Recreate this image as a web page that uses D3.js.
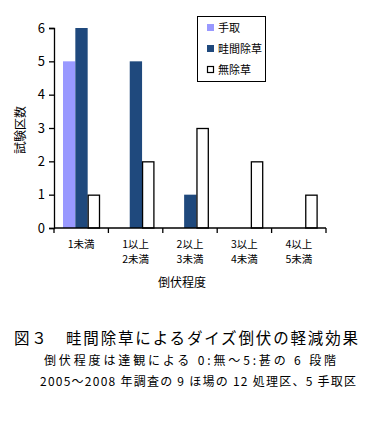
<!DOCTYPE html>
<html lang="ja">
<head>
<meta charset="utf-8">
<script src="https://d3js.org/d3.v7.min.js"></script>
<style>
  body { margin: 0; background: #fff; }
  text { font-family: "Noto Sans CJK JP", sans-serif; fill: #000; }
</style>
</head>
<body>
<script>
// data
var categories = [["1未満"], ["1以上", "2未満"], ["2以上", "3未満"], ["3以上", "4未満"], ["4以上", "5未満"]];
var seriesNames = ["手取", "畦間除草", "無除草"];
var tedori = [5, 0, 0, 0, 0];
var uneJosou = [6, 5, 1, 0, 0];
var muJosou = [1, 2, 3, 2, 1];
var yTicks = [0, 1, 2, 3, 4, 5, 6];
var captions = [
  "図３　畦間除草によるダイズ倒伏の軽減効果",
  "倒伏程度は達観による 0:無～5:甚の 6 段階",
  "2005～2008 年調査の 9 ほ場の 12 処理区、5 手取区"
];

var series = [tedori, uneJosou, muJosou];
var colors = ["#9999ff", "#1f497d", "#ffffff"];

var w = 375, h = 431;
var plotLeft = 54, plotRight = 326, plotTop = 28, plotBottom = 228;

var svg = d3.select("body").append("svg").attr("width", w).attr("height", h);

var x = d3.scaleBand().domain(d3.range(categories.length)).range([plotLeft, plotRight]);
var xs = d3.scaleBand().domain(d3.range(series.length)).range([9, 46]);
var y = d3.scaleLinear().domain([0, 6]).range([plotBottom, plotTop]);

// bars
series.forEach(function(s, si) {
  var outline = si == 2;
  s.forEach(function(d, i) {
    if (d <= 0) return;
    svg.append("rect")
      .attr("x", x(i) + xs(si) + (outline ? 0.5 : 0))
      .attr("y", y(d) + (outline ? 0.5 : 0))
      .attr("width", xs.bandwidth() - (outline ? 1 : 0))
      .attr("height", plotBottom - y(d) - (outline ? 0.5 : 0))
      .attr("fill", colors[si])
      .attr("stroke", outline ? "#000" : "none")
      .attr("stroke-width", 1.3);
  });
});

// y axis
var yAxis = d3.axisLeft(y).tickValues(yTicks).tickSize(5).tickPadding(4).tickFormat(d3.format("d"));
var gy = svg.append("g").attr("transform", "translate(" + plotLeft + ",0)").call(yAxis);
gy.selectAll("path, line").attr("stroke", "#000").attr("stroke-width", 1.3);
gy.selectAll("text").attr("font-size", 13).attr("font-family", "Liberation Sans, Arial, sans-serif");

// x axis
var gx = svg.append("g").attr("transform", "translate(0," + plotBottom + ")");
gx.append("line").attr("x1", plotLeft).attr("x2", plotRight).attr("stroke", "#000").attr("stroke-width", 1.3);
d3.range(categories.length + 1).forEach(function(i) {
  var xx = i < categories.length ? x(i) : plotRight;
  gx.append("line").attr("x1", xx).attr("x2", xx).attr("y1", 0).attr("y2", 5).attr("stroke", "#000").attr("stroke-width", 1.3);
});
categories.forEach(function(c, i) {
  c.forEach(function(line, j) {
    gx.append("text")
      .attr("x", x(i) + x.bandwidth() / 2)
      .attr("y", 20 + j * 15)
      .attr("text-anchor", "middle")
      .attr("font-size", 10.5)
      .text(line);
  });
});

// axis titles
svg.append("text")
  .attr("transform", "translate(25,130) rotate(-90)")
  .attr("text-anchor", "middle")
  .attr("font-size", 12)
  .text("試験区数");
svg.append("text")
  .attr("x", 182).attr("y", 287)
  .attr("text-anchor", "middle")
  .attr("font-size", 12)
  .text("倒伏程度");

// legend
var lg = svg.append("g");
lg.append("rect").attr("x", 197.5).attr("y", 16.5).attr("width", 68).attr("height", 65)
  .attr("fill", "#fff").attr("stroke", "#000").attr("stroke-width", 1);
seriesNames.forEach(function(n, i) {
  var yy = 24 + i * 21;
  lg.append("rect").attr("x", i == 2 ? 207.5 : 207).attr("y", i == 2 ? yy + 0.5 : yy)
    .attr("width", i == 2 ? 6 : 7).attr("height", i == 2 ? 6 : 7)
    .attr("fill", colors[i]).attr("stroke", i == 2 ? "#000" : "none").attr("stroke-width", 1.2);
  lg.append("text").attr("x", 218).attr("y", yy + 7.5)
    .attr("font-size", 11).text(n);
});

// caption
svg.append("text").attr("x", 14).attr("y", 344).attr("font-size", 15.5)
  .attr("textLength", 344).text(captions[0]);
svg.append("text").attr("x", 44).attr("y", 365).attr("font-size", 12)
  .attr("textLength", 292).text(captions[1]);
svg.append("text").attr("x", 40).attr("y", 386).attr("font-size", 12)
  .attr("textLength", 316).text(captions[2]);
</script>
</body>
</html>
